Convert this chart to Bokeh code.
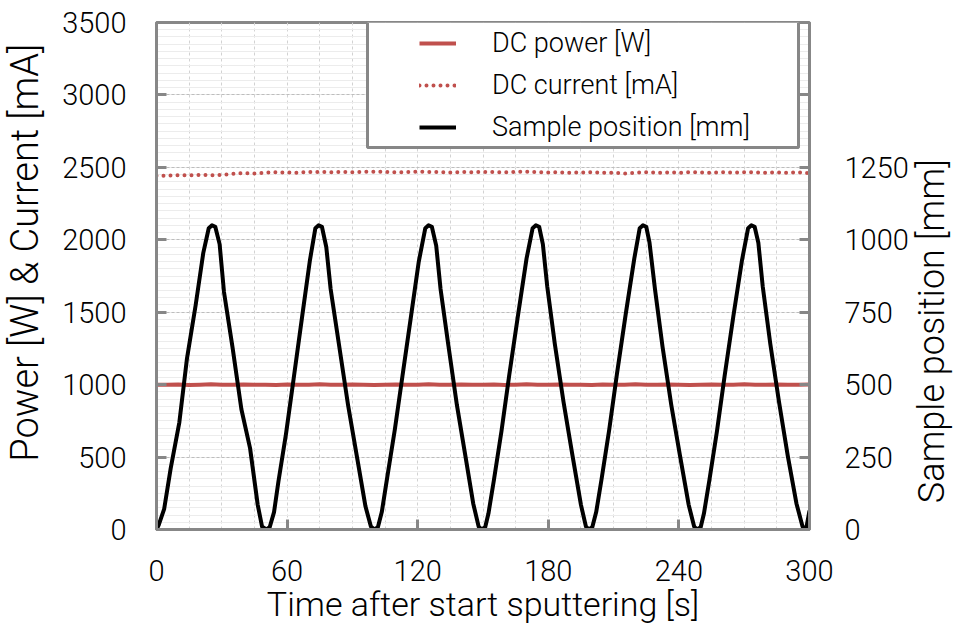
import math
from bokeh.plotting import figure
from bokeh.models import (Range1d, LinearAxis, FixedTicker, Legend, LegendItem,
                          BoxAnnotation)
from bokeh.embed import file_html
from bokeh.resources import INLINE

# ---------------- data ----------------
sample_time = [0, 5, 10, 15, 20, 25, 30, 35, 40, 45, 50, 55, 60, 65, 70, 75, 80, 85, 90, 95,
               100, 105, 110, 115, 120, 125, 130, 135, 140, 145, 150, 155, 160, 165, 170, 175,
               180, 185, 190, 195, 200, 205, 210, 215, 220, 225, 230, 235, 240, 245, 250, 255,
               260, 265, 270, 275, 280, 285, 290, 295, 300]
dc_power = [1000, 999, 1001, 998, 1000, 1002, 999, 1000, 1001, 999, 1000, 998, 1001, 1000, 999,
            1002, 1000, 999, 1001, 1000, 998, 1000, 1001, 999, 1000, 1002, 999, 1000, 1001, 999,
            1000, 1001, 998, 1000, 1002, 999, 1000, 1001, 999, 1000, 998, 1001, 1000, 999, 1002,
            1000, 999, 1001, 1000, 998, 1000, 1001, 999, 1000, 1002, 999, 1000, 1001, 999, 1000, 1001]
dc_current = [2442, 2443, 2446, 2445, 2447, 2446, 2448, 2455, 2460, 2458, 2463, 2466, 2464, 2463,
              2468, 2469, 2466, 2468, 2467, 2469, 2470, 2468, 2465, 2467, 2470, 2468, 2467, 2465,
              2468, 2466, 2469, 2467, 2465, 2468, 2470, 2467, 2465, 2466, 2463, 2465, 2466, 2462,
              2464, 2458, 2463, 2466, 2463, 2465, 2463, 2466, 2465, 2463, 2466, 2464, 2466, 2465,
              2463, 2465, 2463, 2466, 2460]

pos_time = [0, 1, 3.5, 6.5, 10.5, 14, 18, 21.5, 24, 25.5, 27, 29, 31, 35, 39, 43, 46.5, 48.5, 50.5, 52,
            54, 56, 59.5, 63, 67, 70.5, 73, 74.5, 76, 78, 80, 84, 88, 92, 96, 98.5, 100.2, 101.7,
            103.5, 106, 109.5, 113, 117, 120.5, 123.5, 125, 126.5, 128.5, 130.5, 134, 138, 142, 145.5, 148, 149.4, 151,
            152.5, 155, 158.5, 162, 166, 170, 172.8, 174.3, 175.8, 177.5, 179.5, 183, 187, 191, 195, 197.3, 198.6, 200.2,
            202, 204.5, 208, 211.5, 215.5, 219.5, 222, 223.5, 225, 226.5, 229, 232.5, 236.5, 240.5, 244.5, 247, 248.4, 250,
            251.5, 254, 257.5, 261, 265, 269, 271.8, 273.3, 274.8, 276.5, 278.5, 282, 286, 290, 294, 296.8, 298.4, 300]
sample_pos = [0, 15, 70, 210, 370, 590, 775, 955, 1040, 1050, 1045, 985, 820, 625, 415, 280, 85, 10, 0, 8,
              60, 165, 330, 520, 740, 930, 1040, 1050, 1045, 975, 830, 630, 430, 255, 80, 10, 0, 8,
              60, 180, 345, 530, 740, 925, 1040, 1050, 1045, 980, 830, 640, 430, 250, 90, 10, 0, 8,
              55, 170, 340, 530, 735, 935, 1040, 1050, 1045, 985, 840, 640, 440, 260, 85, 10, 0, 8,
              60, 175, 345, 535, 740, 935, 1040, 1050, 1045, 990, 830, 630, 430, 255, 85, 10, 0, 8,
              55, 170, 340, 530, 735, 930, 1040, 1050, 1045, 990, 840, 640, 440, 255, 90, 10, 0, 65]

x_ticks = [0, 60, 120, 180, 240, 300]
x_grid_ticks = [0, 15, 30, 45, 60, 75, 90, 105, 120, 135, 150, 165, 180, 195, 210, 225, 240,
                255, 270, 285, 300]
y_ticks = [0, 500, 1000, 1500, 2000, 2500, 3000, 3500]
y_minor = [v * 50 for v in range(0, 71)]
y2_ticks = [0, 250, 500, 750, 1000, 1250, 1500]

# ---------------- style ----------------
FONT = "Roboto Light"
RED = "#C0504D"
GRAY = "#878787"
NBSP = "\u00a0"

W, H = 976, 629
p = figure(width=W, height=H, output_backend="svg", toolbar_location=None,
           x_range=Range1d(0, 300), y_range=Range1d(0, 3500),
           min_border_left=152, min_border_right=W - 815, min_border_top=22,
           min_border_bottom=H - 529)
p.background_fill_color = "white"
p.border_fill_color = "white"
p.outline_line_color = GRAY
p.outline_line_width = 3

p.extra_y_ranges = {"pos": Range1d(0, 1750)}

# grids
p.xgrid.ticker = FixedTicker(ticks=x_grid_ticks)
p.xgrid.grid_line_color = "#D2D2D2"
p.xgrid.grid_line_dash = "3 3"
p.xgrid.grid_line_width = 1
p.ygrid.ticker = FixedTicker(ticks=y_ticks, minor_ticks=y_minor)
p.ygrid.grid_line_color = "#BDBDBD"
p.ygrid.grid_line_dash = "3 2"
p.ygrid.minor_grid_line_color = "#ECECEC"
p.ygrid.minor_grid_line_width = 1

def style_axis(ax, standoff):
    ax.axis_line_color = GRAY
    ax.axis_line_width = 3
    ax.major_tick_line_color = GRAY
    ax.major_tick_line_width = 3
    ax.major_tick_in = 10
    ax.major_tick_out = 0
    ax.minor_tick_in = 0
    ax.minor_tick_out = 0
    ax.major_label_text_font = FONT
    ax.major_label_text_font_size = "29px"
    ax.major_label_text_color = "black"
    ax.major_label_standoff = standoff

def style_title(ax, size):
    ax.axis_label_text_font = FONT
    ax.axis_label_text_font_size = size
    ax.axis_label_text_font_style = "normal"
    ax.axis_label_text_color = "black"

def title_only(ax):
    ax.axis_line_color = None
    ax.major_tick_line_color = None
    ax.minor_tick_line_color = None
    ax.major_tick_in = 0
    ax.major_tick_out = 0
    ax.minor_tick_in = 0
    ax.minor_tick_out = 0
    ax.major_label_text_font_size = "0px"

# bottom axis
xa = p.xaxis[0]
xa.ticker = FixedTicker(ticks=x_ticks)
xa.axis_label = "Time after start sputtering [s]"
style_axis(xa, 30)
style_title(xa, "34px")
xa.axis_label_standoff = 0

# left axis (title sits a little above the frame centre, as in the reference)
ya = p.yaxis[0]
ya.ticker = FixedTicker(ticks=y_ticks)
ya.axis_label = NBSP * 5 + "Power [W] & Current [mA]"
style_axis(ya, 30)
style_title(ya, "38px")
ya.axis_label_standoff = 12

# right axis: ticks + labels
ra = LinearAxis(y_range_name="pos", ticker=FixedTicker(ticks=y2_ticks))
style_axis(ra, 35)
ra.major_label_overrides = {1500: ""}
p.add_layout(ra, "right")

# right title, reading bottom-to-top, starting near the bottom of the axis
rt = LinearAxis(y_range_name="pos", ticker=FixedTicker(ticks=[]),
                axis_label=NBSP * 3 + "Sample position [mm]")
title_only(rt)
style_title(rt, "36px")
rt.axis_label_standoff = 20
rt.axis_label_orientation = math.pi / 2
rt.axis_label_align = "start"
p.add_layout(rt, "right")

# ---------------- series ----------------
r_power = p.line(sample_time, dc_power, line_color=RED, line_width=4)
r_current = p.line(sample_time, dc_current, line_color=RED, line_width=4,
                   line_dash="0 7", line_cap="round")
r_pos = p.line(pos_time, sample_pos, y_range_name="pos", line_color="black",
               line_width=4, line_join="round")

# ---------------- legend ----------------
box = BoxAnnotation(left=367, right=798, top=21, bottom=147,
                    left_units="canvas", right_units="canvas",
                    top_units="canvas", bottom_units="canvas",
                    fill_color="white", fill_alpha=1.0,
                    line_color=GRAY, line_width=3, line_alpha=1.0)
p.add_layout(box)

legend = Legend(items=[LegendItem(label="DC power [W]", renderers=[r_power]),
                       LegendItem(label="DC current [mA]", renderers=[r_current]),
                       LegendItem(label="Sample position [mm]", renderers=[r_pos])],
                location=(254, 377), padding=9, spacing=10, margin=0,
                label_height=28, glyph_height=28, glyph_width=37, label_standoff=36,
                border_line_alpha=0, background_fill_alpha=0,
                label_text_font=FONT, label_text_font_size="27px",
                label_text_color="black")
p.add_layout(legend)

open("out.html", "w").write(file_html(p, INLINE))
